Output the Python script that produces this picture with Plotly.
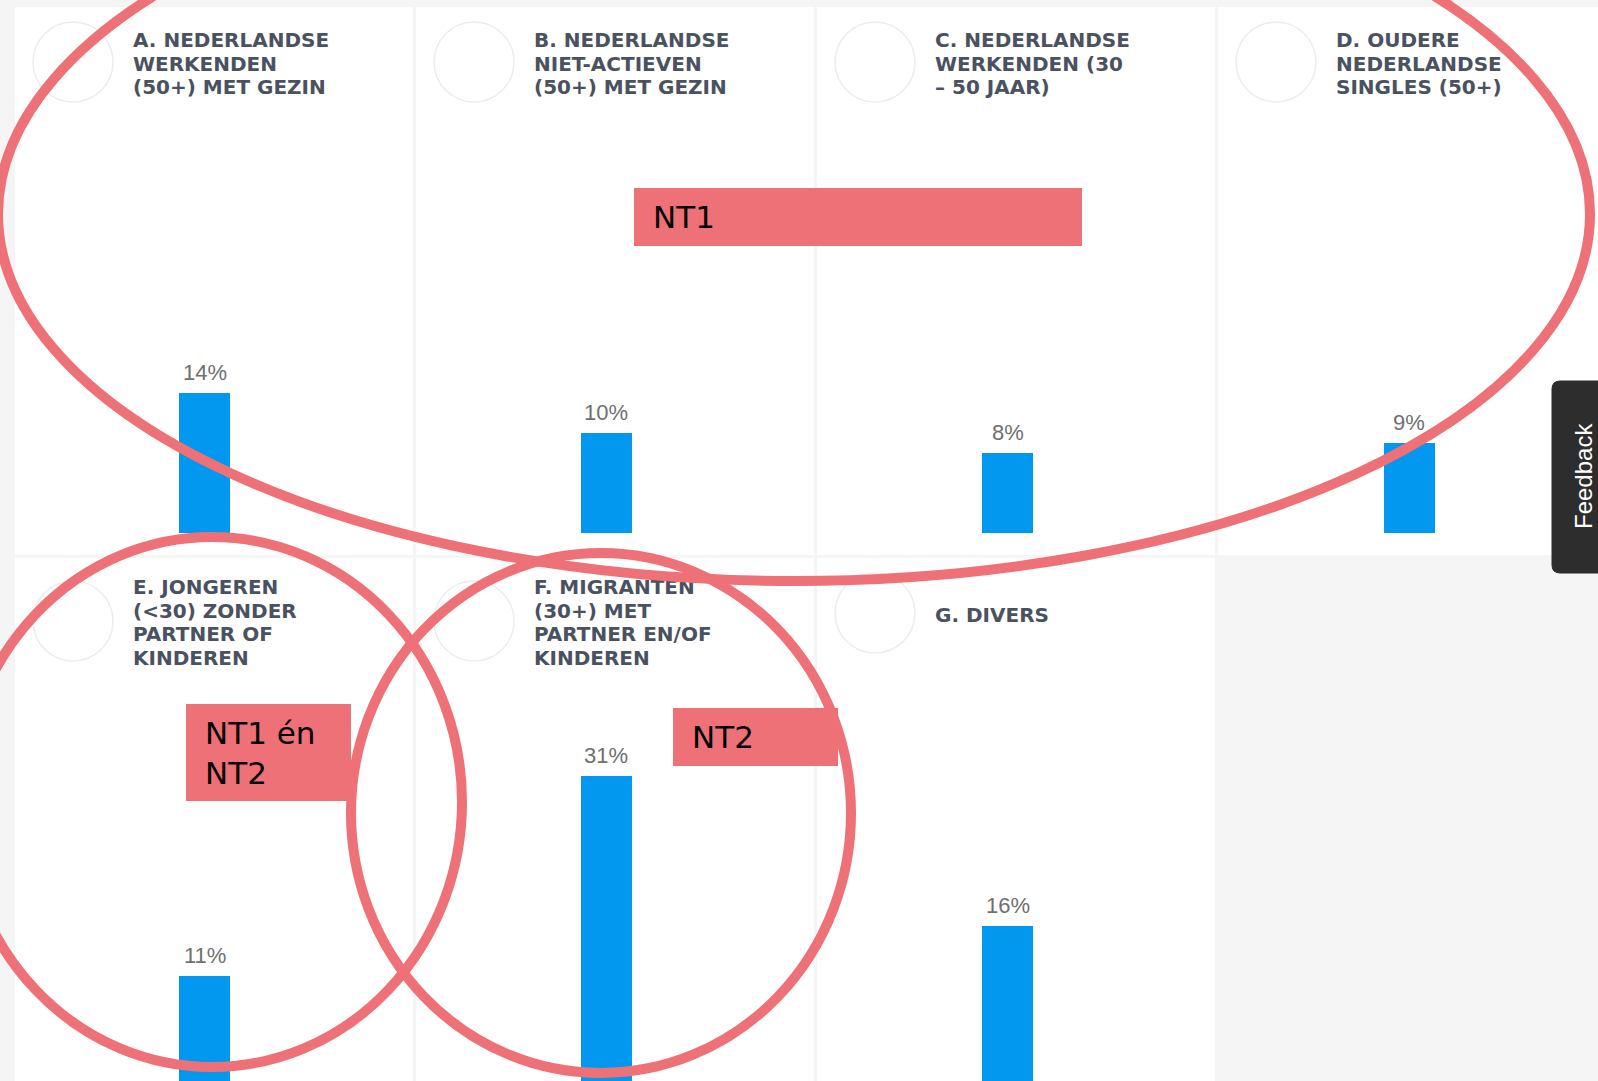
import plotly.graph_objects as go

# ---------------- data ----------------
row1_cats = ["A", "B", "C", "D"]
row1_vals = [14, 10, 8, 9]
row2_cats = ["E", "F", "G"]
row2_vals = [11, 31, 16]
row1_titles = [
    ["A. NEDERLANDSE", "WERKENDEN", "(50+) MET GEZIN"],
    ["B. NEDERLANDSE", "NIET-ACTIEVEN", "(50+) MET GEZIN"],
    ["C. NEDERLANDSE", "WERKENDEN (30", "– 50 JAAR)"],
    ["D. OUDERE", "NEDERLANDSE", "SINGLES (50+)"],
]
row2_titles = [
    ["E. JONGEREN", "(&lt;30) ZONDER", "PARTNER OF", "KINDEREN"],
    ["F. MIGRANTEN", "(30+) MET", "PARTNER EN/OF", "KINDEREN"],
    ["G. DIVERS"],
]
callout_texts = ["NT1", "NT1 én<br>NT2", "NT2"]
feedback_text = "Feedback"

# ---------------- layout constants (pixels) ----------------
W, H = 1598, 1081
CARD_LEFT0, CARD_PITCH, CARD_W = 15, 401, 398
ROW1_TOP, ROW1_BOTTOM = 7, 555
ROW2_TOP, ROW2_BOTTOM = 558, 1110
BAR_CENTER0, BAR_PITCH, BAR_W = 204.5, 401.5, 51
PX_PER_PCT = 10.0
ROW1_BASE, ROW2_BASE = 533, 1086
TITLE_DX, CIRCLE_DX, CIRCLE_R = 118, 58, 40
TITLE_LINE = 23.6
ROW1_TITLE_TOP = [32, 32, 32, 32]
ROW2_TITLE_TOP = [579, 579, 607]
ROW1_CIRCLE_CY = [62, 62, 62, 62]
ROW2_CIRCLE_CY = [621, 621, 613]

RED = "#ee7177"
BLUE = "#0398f0"
TITLE_COLOR = "#4a5160"


def px(x):
    return x / W


def py(y):
    return 1 - y / H


fig = go.Figure()

# bars
fig.add_trace(go.Bar(x=row1_cats, y=row1_vals, xaxis="x", yaxis="y",
                     width=BAR_W / BAR_PITCH, marker=dict(color=BLUE, line=dict(width=0)),
                     hoverinfo="skip"))
fig.add_trace(go.Bar(x=row2_cats, y=row2_vals, xaxis="x2", yaxis="y2",
                     width=BAR_W / BAR_PITCH, marker=dict(color=BLUE, line=dict(width=0)),
                     hoverinfo="skip"))

# titles as text traces (so the annotation strokes can lie over them)
tx, ty, tt = [], [], []
for titles, tops in [(row1_titles, ROW1_TITLE_TOP), (row2_titles, ROW2_TITLE_TOP)]:
    for i, lines in enumerate(titles):
        for k, line in enumerate(lines):
            tx.append(CARD_LEFT0 + i * CARD_PITCH + TITLE_DX)
            ty.append(tops[i] + k * TITLE_LINE)
            tt.append(line)
fig.add_trace(go.Scatter(x=tx, y=ty, text=tt, mode="text", xaxis="x3", yaxis="y3",
                         textposition="bottom right",
                         textfont=dict(family="DejaVu Sans", size=20, color=TITLE_COLOR, weight="bold"),
                         hoverinfo="skip", cliponaxis=False))

shapes = []
# cards
for r, (top, bottom, n) in enumerate([(ROW1_TOP, ROW1_BOTTOM, 4), (ROW2_TOP, ROW2_BOTTOM, 3)]):
    for i in range(n):
        x0 = CARD_LEFT0 + i * CARD_PITCH
        shapes.append(dict(type="rect", xref="paper", yref="paper", layer="below",
                           x0=px(x0), x1=px(x0 + CARD_W), y0=py(bottom), y1=py(top),
                           fillcolor="white", line=dict(width=0)))
# faint circles
for r, cys in enumerate([ROW1_CIRCLE_CY, ROW2_CIRCLE_CY]):
    for i, cy in enumerate(cys):
        cx = CARD_LEFT0 + i * CARD_PITCH + CIRCLE_DX
        shapes.append(dict(type="circle", xref="paper", yref="paper", layer="below",
                           x0=px(cx - CIRCLE_R), x1=px(cx + CIRCLE_R),
                           y0=py(cy + CIRCLE_R), y1=py(cy - CIRCLE_R),
                           line=dict(color="#ededed", width=1.5), fillcolor="rgba(0,0,0,0)"))

# red ellipses
for (x0, y0, x1, y1) in [(-2, -153, 1590, 581), (-38, 537, 462, 1067), (351, 553, 851, 1073)]:
    shapes.append(dict(type="circle", xref="paper", yref="paper", layer="above",
                       x0=px(x0), x1=px(x1), y0=py(y1), y1=py(y0),
                       line=dict(color=RED, width=10), fillcolor="rgba(0,0,0,0)"))

# red label boxes
boxes = [(634, 188, 1082, 246), (186, 704, 351, 801), (673, 708, 838, 766)]
for (x0, y0, x1, y1) in boxes:
    shapes.append(dict(type="rect", xref="paper", yref="paper", layer="above",
                       x0=px(x0), x1=px(x1), y0=py(y1), y1=py(y0),
                       fillcolor=RED, line=dict(width=0)))

# feedback tab
fx0, fx1, fy0, fy1, fr = 1552, 1604, 381, 573, 8
path = (f"M {px(fx1)},{py(fy0)} L {px(fx0 + fr)},{py(fy0)} Q {px(fx0)},{py(fy0)} {px(fx0)},{py(fy0 + fr)} "
        f"L {px(fx0)},{py(fy1 - fr)} Q {px(fx0)},{py(fy1)} {px(fx0 + fr)},{py(fy1)} L {px(fx1)},{py(fy1)} Z")
shapes.append(dict(type="path", xref="paper", yref="paper", layer="above", path=path,
                   fillcolor="#2d2d2d", line=dict(color="#2d2d2d", width=1)))

annotations = []
# value labels
for cats, vals, xr, yr in [(row1_cats, row1_vals, "x", "y"), (row2_cats, row2_vals, "x2", "y2")]:
    for c, v in zip(cats, vals):
        annotations.append(dict(x=c, y=v, xref=xr, yref=yr, text=f"{v}%", showarrow=False,
                                yanchor="middle", yshift=21,
                                font=dict(family="Liberation Sans", size=22, color="#6f6f6f")))
# callout labels
for (x0, y0, x1, y1), t in zip(boxes, callout_texts):
    annotations.append(dict(x=px(x0 + 17), y=py((y0 + y1) / 2), xref="paper", yref="paper",
                            text=t, showarrow=False, xanchor="left", yanchor="middle", align="left",
                            font=dict(family="DejaVu Sans", size=31, color="black")))
# feedback label
annotations.append(dict(x=px(1583), y=py(476), xref="paper", yref="paper", text=feedback_text,
                        showarrow=False, textangle=-90, xanchor="center", yanchor="middle",
                        font=dict(family="Liberation Sans", size=24, color="white")))

r0 = -BAR_CENTER0 / BAR_PITCH
r1 = (W - BAR_CENTER0) / BAR_PITCH
hidden = dict(visible=False, fixedrange=True, showgrid=False, zeroline=False)

fig.update_layout(
    width=W, height=H, autosize=False,
    margin=dict(l=0, r=0, t=0, b=0, pad=0),
    paper_bgcolor="#f5f5f5", plot_bgcolor="rgba(0,0,0,0)",
    showlegend=False, bargap=0,
    xaxis=dict(hidden, type="category", categoryarray=row1_cats, range=[r0, r1], domain=[0, 1], anchor="y"),
    yaxis=dict(hidden, range=[-(H - ROW1_BASE) / PX_PER_PCT, ROW1_BASE / PX_PER_PCT], domain=[0, 1], anchor="x"),
    xaxis2=dict(hidden, type="category", categoryarray=row2_cats, range=[r0, r1], domain=[0, 1], anchor="y2"),
    yaxis2=dict(hidden, range=[(ROW2_BASE - H) / PX_PER_PCT, ROW2_BASE / PX_PER_PCT], domain=[0, 1], anchor="x2"),
    xaxis3=dict(hidden, range=[0, W], domain=[0, 1], anchor="y3"),
    yaxis3=dict(hidden, range=[H, 0], domain=[0, 1], anchor="x3"),
    shapes=shapes, annotations=annotations,
)

fig.write_html("out.html", config={"displayModeBar": False, "staticPlot": True},
               post_script="document.body.style.margin='0';")
